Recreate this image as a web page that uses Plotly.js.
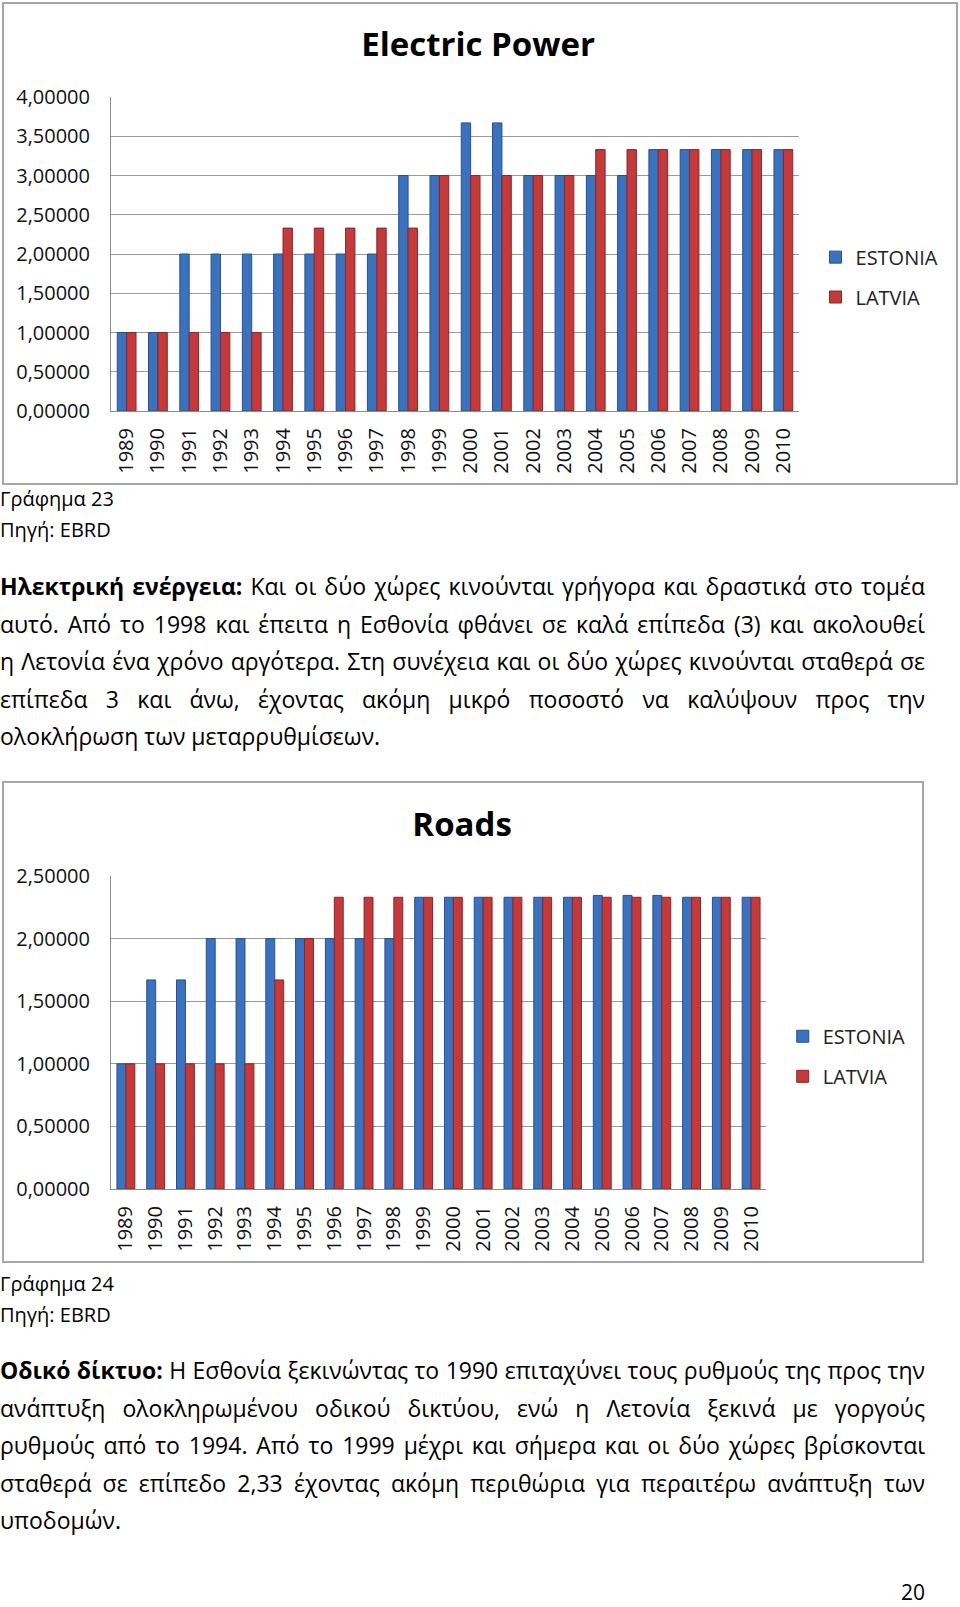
<!DOCTYPE html>
<html>
<head>
<meta charset="utf-8">
<script src="https://cdn.plot.ly/plotly-3.0.1.min.js"></script>
<style>
  html, body { margin:0; padding:0; background:#fff; }
  body { width:960px; height:1607px; position:relative; overflow:hidden; font-family:"Open Sans", sans-serif; color:#000; }
  .box { position:absolute; border:2px solid #a6a6a6; box-sizing:border-box; background:#fff; }
  .plot { position:absolute; left:0; top:0; }
  .txt { position:absolute; left:0; width:925px; font-size:23px; white-space:nowrap; }
  .line { height:37.5px; line-height:37.5px; }
  .just { white-space:nowrap; }
  .cap { height:31px; line-height:31px; font-size:20px; }
</style>
</head>
<body>
<div class="box" style="left:2px; top:2px; width:956px; height:483px;"><div id="chart1" class="plot"></div></div>
<div class="txt" style="top:483px;">
  <div class="cap">Γράφημα 23</div>
  <div class="cap">Πηγή: EBRD</div>
</div>
<div class="txt" style="top:568px;">
  <div class="line just"><span><b>Ηλεκτρική ενέργεια:</b> Και οι δύο χώρες κινούνται γρήγορα και δραστικά στο τομέα</span></div>
  <div class="line just"><span>αυτό. Από το 1998 και έπειτα η Εσθονία φθάνει σε καλά επίπεδα (3) και ακολουθεί</span></div>
  <div class="line just"><span>η Λετονία ένα χρόνο αργότερα. Στη συνέχεια και οι δύο χώρες κινούνται σταθερά σε</span></div>
  <div class="line just"><span>επίπεδα 3 και άνω, έχοντας ακόμη μικρό ποσοστό να καλύψουν προς την</span></div>
  <div class="line">ολοκλήρωση των μεταρρυθμίσεων.</div>
</div>
<div class="box" style="left:2px; top:781px; width:922px; height:482px;"><div id="chart2" class="plot"></div></div>
<div class="txt" style="top:1268px;">
  <div class="cap">Γράφημα 24</div>
  <div class="cap">Πηγή: EBRD</div>
</div>
<div class="txt" style="top:1352px;">
  <div class="line just"><span><b>Οδικό δίκτυο:</b> Η Εσθονία ξεκινώντας το 1990 επιταχύνει τους ρυθμούς της προς την</span></div>
  <div class="line just"><span>ανάπτυξη ολοκληρωμένου οδικού δικτύου, ενώ η Λετονία ξεκινά με γοργούς</span></div>
  <div class="line just"><span>ρυθμούς από το 1994. Από το 1999 μέχρι και σήμερα και οι δύο χώρες βρίσκονται</span></div>
  <div class="line just"><span>σταθερά σε επίπεδο 2,33 έχοντας ακόμη περιθώρια για περαιτέρω ανάπτυξη των</span></div>
  <div class="line">υποδομών.</div>
</div>
<div class="txt" style="top:1578px; text-align:right; font-size:21px;">20</div>

<script>
// Justify each full line exactly to the column width by adjusting word spacing
document.querySelectorAll('.just').forEach(function (div) {
  const span = div.querySelector('span');
  const target = 925;
  const w = span.getBoundingClientRect().width;
  const spaces = (span.textContent.match(/ /g) || []).length;
  if (spaces > 0) span.style.wordSpacing = ((target - w) / spaces) + 'px';
});

const years = ["1989","1990","1991","1992","1993","1994","1995","1996","1997","1998","1999",
               "2000","2001","2002","2003","2004","2005","2006","2007","2008","2009","2010"];
const seriesNames = ["ESTONIA", "LATVIA"];

const powerEstonia = [1,1,2,2,2,2,2,2,2,3,3,3.67,3.67,3,3,3,3,3.33,3.33,3.33,3.33,3.33];
const powerLatvia  = [1,1,1,1,1,2.33,2.33,2.33,2.33,2.33,3,3,3,3,3,3.33,3.33,3.33,3.33,3.33,3.33,3.33];

const roadsEstonia = [1,1.67,1.67,2,2,2,2,2,2,2,2.33,2.33,2.33,2.33,2.33,2.33,2.345,2.345,2.345,2.33,2.33,2.33];
const roadsLatvia  = [1,1,1,1,1,1.67,2,2.33,2.33,2.33,2.33,2.33,2.33,2.33,2.33,2.33,2.33,2.33,2.33,2.33,2.33,2.33];

const BLUE = "#3c72bd", BLUE_EDGE = "#25528f";
const RED = "#c23a3c", RED_EDGE = "#8e2527";
const FONT = "Open Sans, sans-serif";

function traces(est, lat) {
  return [
    {type:"bar", x:years, y:est, name:seriesNames[0], legend:"legend",
     marker:{color:BLUE, line:{color:BLUE_EDGE, width:1}}, hoverinfo:"skip"},
    {type:"bar", x:years, y:lat, name:seriesNames[1], legend:"legend2",
     marker:{color:RED, line:{color:RED_EDGE, width:1}}, hoverinfo:"skip"}
  ];
}

function layout(o) {
  const legendBase = {font:{family:FONT, size:20, color:"#222"}, bgcolor:"rgba(0,0,0,0)",
                      xanchor:"left", yanchor:"middle", x:o.legX};
  return {
    width:o.w, height:o.h,
    margin:{l:107, t:93, r:o.w-107-o.pw, b:o.h-93-o.ph, pad:0},
    paper_bgcolor:"rgba(0,0,0,0)", plot_bgcolor:"rgba(0,0,0,0)",
    separators:",.",
    barmode:"group", bargap:0.4, bargroupgap:0,
    title:{text:o.title, font:{family:FONT, size:33, weight:700, color:"#000"},
           x:o.titleX, xanchor:"center", y:o.titleY, yanchor:"middle", xref:"container", yref:"container"},
    xaxis:{type:"category", tickangle:-90, tickfont:{family:FONT, size:20, color:"#111"},
           showline:true, linecolor:"#8c8c8c", linewidth:1, ticks:"", showgrid:false,
           ticklabelstandoff:8, fixedrange:true},
    yaxis:{range:[0,o.ymax], dtick:0.5, tick0:0, tickformat:".5f",
           tickfont:{family:FONT, size:20, color:"#111"},
           showgrid:true, gridcolor:"#9a9a9a", gridwidth:1,
           showline:true, linecolor:"#8c8c8c", linewidth:1, zeroline:false,
           ticks:"", ticklabelstandoff:16, fixedrange:true},
    showlegend:true,
    legend:Object.assign({}, legendBase, {y:o.legY1}),
    legend2:Object.assign({}, legendBase, {y:o.legY2})
  };
}

const cfg = {staticPlot:true, displayModeBar:false};

Plotly.newPlot("chart1", traces(powerEstonia, powerLatvia),
  layout({w:952, h:479, pw:690, ph:314, ymax:4, title:"Electric Power",
          titleX:0.498, titleY:0.915, legX:1.024, legY1:0.49, legY2:0.363}), cfg);

Plotly.newPlot("chart2", traces(roadsEstonia, roadsLatvia),
  layout({w:918, h:478, pw:656, ph:313, ymax:2.5, title:"Roads",
          titleX:0.499, titleY:0.914, legX:1.024, legY1:0.488, legY2:0.36}), cfg);
</script>
</body>
</html>
